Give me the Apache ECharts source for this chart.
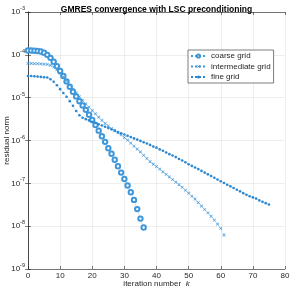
<!DOCTYPE html>
<html>
<head>
<meta charset="utf-8">
<script src="https://cdn.jsdelivr.net/npm/echarts@6/dist/echarts.min.js"></script>
<style>html,body{margin:0;padding:0;background:#fff}#c{width:291px;height:290px}</style>
</head>
<body>
<div id="c"></div>
<script>
var coarseIter = [0,1,2,3,4,5,6,7,8,9,10,11,12,13,14,15,16,17,18,19,20,21,22,23,24,25,26,27,28,29,30,31,32,33,34,35,36];
var coarseRes = [1.26e-4,1.26e-4,1.25e-4,1.23e-4,1.20e-4,1.12e-4,1.0e-4,8.5e-5,6.9e-5,5.4e-5,4.2e-5,3.2e-5,2.4e-5,1.8e-5,1.38e-5,1.07e-5,8.3e-6,6.6e-6,5.2e-6,4.0e-6,3.0e-6,2.3e-6,1.7e-6,1.26e-6,9.3e-7,6.6e-7,4.9e-7,3.55e-7,2.5e-7,1.78e-7,1.26e-7,8.9e-8,6.2e-8,4.1e-8,2.5e-8,1.5e-8,9.3e-9];
var interRes = [6.3e-5,6.3e-5,6.25e-5,6.2e-5,6.15e-5,6.05e-5,6.0e-5,5.7e-5,5.2e-5,4.5e-5,3.7e-5,3.1e-5,2.45e-5,1.95e-5,1.58e-5,1.29e-5,1.05e-5,8.7e-6,7.2e-6,6.0e-6,5.0e-6,4.2e-6,3.5e-6,2.95e-6,2.5e-6,2.2e-6,1.9e-6,1.7e-6,1.5e-6,1.35e-6,1.17e-6,1.02e-6,8.7e-7,7.4e-7,6.3e-7,5.4e-7,4.5e-7,3.8e-7,3.2e-7,2.8e-7,2.45e-7,2.15e-7,1.86e-7,1.62e-7,1.41e-7,1.23e-7,1.07e-7,9.3e-8,8.1e-8,6.9e-8,5.9e-8,5.0e-8,4.3e-8,3.55e-8,2.95e-8,2.45e-8,2.04e-8,1.7e-8,1.38e-8,1.12e-8,8.9e-9,6.2e-9];
var fineRes = [3.2e-5,3.2e-5,3.15e-5,3.1e-5,3.05e-5,3.0e-5,2.95e-5,2.7e-5,2.35e-5,1.95e-5,1.58e-5,1.29e-5,1.05e-5,8.3e-6,6.5e-6,4.9e-6,3.9e-6,3.4e-6,3.15e-6,2.95e-6,2.75e-6,2.57e-6,2.4e-6,2.24e-6,2.1e-6,1.95e-6,1.82e-6,1.7e-6,1.58e-6,1.48e-6,1.38e-6,1.29e-6,1.2e-6,1.12e-6,1.05e-6,9.8e-7,9.1e-7,8.5e-7,7.9e-7,7.2e-7,6.8e-7,6.2e-7,5.75e-7,5.25e-7,4.8e-7,4.45e-7,4.1e-7,3.7e-7,3.4e-7,3.1e-7,2.8e-7,2.55e-7,2.35e-7,2.15e-7,1.95e-7,1.78e-7,1.62e-7,1.48e-7,1.35e-7,1.23e-7,1.12e-7,1.02e-7,9.3e-8,8.5e-8,7.8e-8,7.1e-8,6.5e-8,5.9e-8,5.4e-8,5.0e-8,4.7e-8,4.4e-8,4.0e-8,3.7e-8,3.45e-8,3.2e-8];
var seriesNames = ['coarse grid','intermediate grid','fine grid'];
var xTicks = [0,10,20,30,40,50,60,70,80];
var yExponents = [-9,-8,-7,-6,-5,-4,-3];

function pairs(res){ var out=[]; for (var i=0;i<res.length;i++) out.push([i,res[i]]); return out; }

var minorVals = [];
for (var e=-9;e<-3;e++){ for (var m=2;m<=9;m++){ minorVals.push({yAxis: m*Math.pow(10,e)}); } }

var blue = '#2a87d0';
var lightBlue = '#3f97da';
var txt = '#262626';
var chart = echarts.init(document.getElementById('c'), null, {renderer:'canvas'});
var xMarker = 'path://M0,1.4L1.4,0L5,3.6L8.6,0L10,1.4L6.4,5L10,8.6L8.6,10L5,6.4L1.4,10L0,8.6L3.6,5Z';

var axisCommon = {
  axisLine:{show:true,lineStyle:{color:txt,width:0.6}},
  axisTick:{show:true,inside:true,length:3,lineStyle:{color:txt,width:0.6}}
};

chart.setOption({
  animation:false,
  title:{text:'GMRES convergence with LSC preconditioning',left:151.5,top:0,textAlign:'center',
    textStyle:{fontFamily:'Liberation Sans',fontSize:8.5,fontWeight:'bold',color:'#000'}},
  grid:{left:28,right:6,top:12,bottom:21,containLabel:false,outerBoundsMode:'none'},
  legend:{orient:'vertical',left:188,top:50,itemWidth:15,itemHeight:4,itemGap:2.5,
    data:seriesNames,padding:[2,3,2,2],borderColor:txt,borderWidth:0.6,backgroundColor:'#fff',
    textStyle:{fontFamily:'Liberation Sans',fontSize:8,color:txt,padding:[0,0,0,0]}},
  xAxis:[
    Object.assign({type:'value',min:0,max:80,interval:10,position:'bottom',
      name:'iteration number  {i|k}',nameLocation:'middle',nameGap:11,nameMoveOverlap:false,
      nameTextStyle:{fontFamily:'Liberation Sans',fontSize:8,color:txt,
        rich:{i:{fontFamily:'Liberation Sans',fontSize:8,fontStyle:'italic',color:txt}}},
      axisLabel:{fontFamily:'Liberation Sans',fontSize:8,color:txt,margin:3,
        formatter:function(v){return xTicks.indexOf(v)>=0?String(v):'';}},
      splitLine:{show:true,lineStyle:{color:'#e3e3e3',width:0.6}}},axisCommon),
    Object.assign({type:'value',min:0,max:80,interval:10,position:'top',
      axisLabel:{show:false},splitLine:{show:false}},axisCommon)
  ],
  yAxis:[
    Object.assign({type:'log',logBase:10,min:1e-9,max:1e-3,interval:1,position:'left',
      name:'residual norm',nameLocation:'middle',nameGap:17,nameMoveOverlap:false,
      nameTextStyle:{fontFamily:'Liberation Sans',fontSize:8,color:txt},
      axisLabel:{margin:3,formatter:function(v){var ex=Math.round(Math.log10(v)); if(yExponents.indexOf(ex)<0) return ''; return '{b|10}{s|'+ex+'}';},
        rich:{b:{fontFamily:'Liberation Sans',fontSize:8,color:txt},s:{fontFamily:'Liberation Sans',fontSize:5.5,color:txt,padding:[0,0,7,0]}}},
      splitLine:{show:true,lineStyle:{color:'#e3e3e3',width:0.6}}},axisCommon),
    Object.assign({type:'log',logBase:10,min:1e-9,max:1e-3,interval:1,position:'right',
      axisLabel:{show:false},splitLine:{show:false}},axisCommon)
  ],
  series:[
    {name:'coarse grid',type:'line',data:pairs(coarseRes),symbol:'emptyCircle',symbolSize:4.4,
      lineStyle:{color:lightBlue,width:0.5,type:'dotted'},itemStyle:{color:lightBlue,borderColor:lightBlue,borderWidth:0.5},z:3,
      markLine:{silent:true,symbol:['none','none'],label:{show:false},animation:false,
        lineStyle:{color:'#d0d0d0',width:0.5,type:[1,1.5]},data:minorVals},emphasis:{disabled:true}},
    {name:'intermediate grid',type:'line',data:pairs(interRes),symbol:xMarker,symbolSize:3.2,
      lineStyle:{color:lightBlue,width:0.5,type:'dotted'},itemStyle:{color:lightBlue},z:3,emphasis:{disabled:true}},
    {name:'fine grid',type:'line',data:pairs(fineRes),symbol:'circle',symbolSize:2.6,
      lineStyle:{color:blue,width:0.5,type:'dotted'},itemStyle:{color:blue},z:3,emphasis:{disabled:true}}
  ]
});
</script>
</body>
</html>
